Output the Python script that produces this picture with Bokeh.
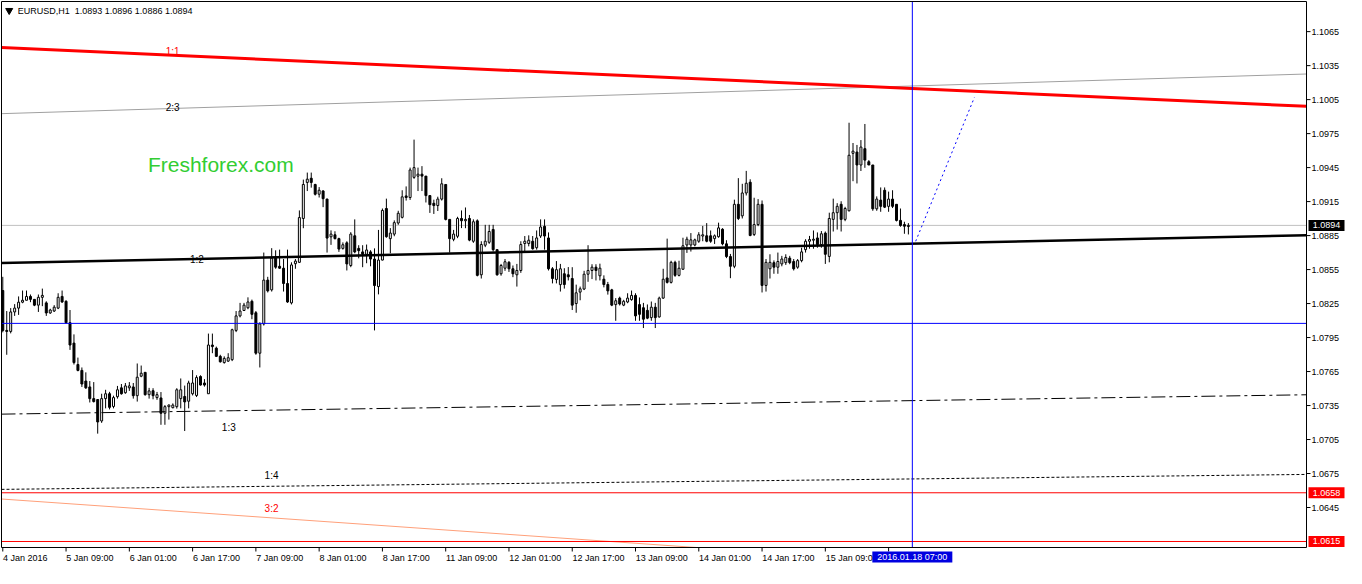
from bokeh.plotting import figure
from bokeh.models import Range1d, ColumnDataSource, Label
from bokeh.core.properties import value
from bokeh.embed import file_html
from bokeh.resources import INLINE

# ---------------- data (EURUSD H1) ----------------
opens = [1.08365, 1.08013, 1.08004, 1.08176, 1.08210, 1.08262, 1.08279, 1.08313, 1.08287, 1.08236,
         1.08305, 1.08256, 1.08167, 1.08184, 1.08210, 1.08313, 1.08270, 1.08081, 1.07901, 1.07712,
         1.07660, 1.07566, 1.07514, 1.07411, 1.07403, 1.07214, 1.07411, 1.07454, 1.07342, 1.07428,
         1.07506, 1.07463, 1.07506, 1.07514, 1.07437, 1.07609, 1.07643, 1.07446, 1.07481, 1.07420,
         1.07417, 1.07282, 1.07340, 1.07331, 1.07340, 1.07411, 1.07430, 1.07388, 1.07454, 1.07439,
         1.07606, 1.07549, 1.07454, 1.07884, 1.07856, 1.07784, 1.07729, 1.07742, 1.07755, 1.08013,
         1.08141, 1.08189, 1.08213, 1.08270, 1.08169, 1.07812, 1.08070, 1.08457, 1.08371, 1.08651,
         1.08579, 1.08562, 1.08427, 1.08256, 1.08602, 1.08614, 1.09001, 1.09319, 1.09356, 1.09301,
         1.09215, 1.09244, 1.09172, 1.08839, 1.08857, 1.08823, 1.08737, 1.08786, 1.08586, 1.08848,
         1.08737, 1.08706, 1.08685, 1.08706, 1.08643, 1.08400, 1.08634, 1.09089, 1.08823, 1.08863,
         1.08961, 1.09011, 1.09200, 1.09186, 1.09364, 1.09375, 1.09392, 1.09375, 1.09203, 1.09135,
         1.09115, 1.09172, 1.09301, 1.08993, 1.08817, 1.08844, 1.09001, 1.08981, 1.09001, 1.08800,
         1.08980, 1.08504, 1.08765, 1.08791, 1.08904, 1.08726, 1.08513, 1.08562, 1.08614, 1.08557,
         1.08504, 1.08542, 1.08780, 1.08780, 1.08800, 1.08743, 1.08846, 1.08932, 1.08829, 1.08557,
         1.08463, 1.08417, 1.08513, 1.08504, 1.08471, 1.08250, 1.08351, 1.08378, 1.08509, 1.08542,
         1.08571, 1.08495, 1.08465, 1.08418, 1.08371, 1.08241, 1.08298, 1.08236, 1.08264, 1.08285,
         1.08322, 1.08241, 1.08213, 1.08190, 1.08126, 1.08218, 1.08132, 1.08298, 1.08476, 1.08437,
         1.08614, 1.08499, 1.08553, 1.08767, 1.08767, 1.08767, 1.08800, 1.08846, 1.08848, 1.08848,
         1.08823, 1.08840, 1.08906, 1.08777, 1.08665, 1.08579, 1.09126, 1.09024, 1.09226, 1.09321,
         1.08860, 1.08947, 1.09126, 1.08410, 1.08557, 1.08611, 1.08571, 1.08600, 1.08611, 1.08651,
         1.08621, 1.08571, 1.08629, 1.08726, 1.08800, 1.08809, 1.08829, 1.08771, 1.08872, 1.08666,
         1.08993, 1.09052, 1.09126, 1.08993, 1.09069, 1.09576, 1.09587, 1.09473, 1.09617, 1.09502,
         1.09473, 1.09086, 1.09163, 1.09250, 1.09108, 1.09172, 1.09126, 1.08984, 1.08947, 1.08930]
highs = [1.08486, 1.08184, 1.08210, 1.08245, 1.08313, 1.08365, 1.08365, 1.08330, 1.08287, 1.08330,
         1.08382, 1.08270, 1.08204, 1.08236, 1.08341, 1.08365, 1.08279, 1.08193, 1.07978, 1.07773,
         1.07686, 1.07643, 1.07566, 1.07557, 1.07403, 1.07454, 1.07489, 1.07471, 1.07437, 1.07523,
         1.07540, 1.07549, 1.07557, 1.07549, 1.07721, 1.07703, 1.07643, 1.07506, 1.07503, 1.07470,
         1.07469, 1.07354, 1.07360, 1.07369, 1.07503, 1.07589, 1.07526, 1.07569, 1.07663, 1.07617,
         1.07617, 1.07583, 1.07985, 1.07985, 1.07870, 1.07798, 1.07784, 1.07812, 1.08028, 1.08184,
         1.08256, 1.08256, 1.08305, 1.08285, 1.08184, 1.08085, 1.08700, 1.08486, 1.08739, 1.08720,
         1.08726, 1.08643, 1.08726, 1.08614, 1.08643, 1.09072, 1.09344, 1.09406, 1.09406, 1.09307,
         1.09278, 1.09250, 1.09176, 1.08896, 1.08888, 1.08831, 1.08790, 1.08800, 1.08880, 1.08993,
         1.08765, 1.08765, 1.08771, 1.08721, 1.08737, 1.08900, 1.09089, 1.09176, 1.08916, 1.08984,
         1.09069, 1.09250, 1.09284, 1.09450, 1.09697, 1.09450, 1.09463, 1.09375, 1.09203, 1.09167,
         1.09193, 1.09356, 1.09301, 1.08993, 1.08900, 1.09016, 1.09072, 1.09098, 1.09032, 1.08993,
         1.08993, 1.08800, 1.08945, 1.08945, 1.08945, 1.08726, 1.08600, 1.08643, 1.08625, 1.08586,
         1.08600, 1.08800, 1.08846, 1.08852, 1.08846, 1.08895, 1.08993, 1.08993, 1.08878, 1.08572,
         1.08625, 1.08600, 1.08562, 1.08572, 1.08571, 1.08417, 1.08400, 1.08539, 1.08765, 1.08597,
         1.08597, 1.08602, 1.08499, 1.08441, 1.08380, 1.08298, 1.08311, 1.08283, 1.08341, 1.08365,
         1.08341, 1.08304, 1.08256, 1.08242, 1.08268, 1.08256, 1.08311, 1.08557, 1.08823, 1.08628,
         1.08628, 1.08628, 1.08831, 1.08840, 1.08872, 1.08823, 1.08880, 1.08935, 1.08960, 1.08895,
         1.08860, 1.08964, 1.08915, 1.08809, 1.08688, 1.09167, 1.09357, 1.09307, 1.09421, 1.09347,
         1.09184, 1.09172, 1.09160, 1.08643, 1.08685, 1.08631, 1.08700, 1.08671, 1.08685, 1.08671,
         1.08643, 1.08643, 1.08743, 1.08818, 1.08847, 1.08895, 1.08878, 1.08890, 1.08886, 1.09052,
         1.09176, 1.09136, 1.09153, 1.09104, 1.09846, 1.09667, 1.09650, 1.09693, 1.09835, 1.09516,
         1.09473, 1.09196, 1.09275, 1.09275, 1.09238, 1.09250, 1.09126, 1.09089, 1.08972, 1.08960]
lows = [1.07996, 1.07798, 1.07987, 1.08141, 1.08150, 1.08253, 1.08279, 1.08262, 1.08227, 1.08176,
        1.08227, 1.08141, 1.08159, 1.08176, 1.08201, 1.08256, 1.08072, 1.07841, 1.07712, 1.07652,
        1.07514, 1.07497, 1.07377, 1.07377, 1.07102, 1.07197, 1.07325, 1.07316, 1.07325, 1.07411,
        1.07446, 1.07454, 1.07479, 1.07411, 1.07385, 1.07600, 1.07437, 1.07411, 1.07405, 1.07400,
        1.07180, 1.07180, 1.07226, 1.07325, 1.07323, 1.07325, 1.07125, 1.07325, 1.07439, 1.07425,
        1.07526, 1.07517, 1.07454, 1.07812, 1.07778, 1.07729, 1.07720, 1.07736, 1.07742, 1.07998,
        1.08128, 1.08184, 1.08200, 1.08112, 1.07798, 1.07686, 1.08056, 1.08348, 1.08356, 1.08557,
        1.08557, 1.08356, 1.08256, 1.08242, 1.08557, 1.08609, 1.08915, 1.09243, 1.09273, 1.09204,
        1.09186, 1.09101, 1.08700, 1.08768, 1.08816, 1.08706, 1.08726, 1.08542, 1.08571, 1.08694,
        1.08649, 1.08571, 1.08606, 1.08579, 1.08013, 1.08331, 1.08631, 1.08831, 1.08694, 1.08844,
        1.08945, 1.09001, 1.09159, 1.09165, 1.09351, 1.09243, 1.09243, 1.09142, 1.09050, 1.09041,
        1.09067, 1.09159, 1.08984, 1.08700, 1.08800, 1.08827, 1.08916, 1.08915, 1.08800, 1.08786,
        1.08490, 1.08471, 1.08748, 1.08777, 1.08709, 1.08496, 1.08496, 1.08539, 1.08529, 1.08483,
        1.08400, 1.08521, 1.08712, 1.08755, 1.08726, 1.08726, 1.08829, 1.08726, 1.08542, 1.08428,
        1.08428, 1.08356, 1.08382, 1.08454, 1.08193, 1.08169, 1.08279, 1.08369, 1.08442, 1.08466,
        1.08454, 1.08454, 1.08393, 1.08329, 1.08227, 1.08098, 1.08233, 1.08227, 1.08253, 1.08275,
        1.08098, 1.08098, 1.08034, 1.08112, 1.08098, 1.08034, 1.08126, 1.08292, 1.08427, 1.08427,
        1.08486, 1.08490, 1.08548, 1.08697, 1.08709, 1.08755, 1.08786, 1.08800, 1.08791, 1.08786,
        1.08776, 1.08831, 1.08764, 1.08651, 1.08474, 1.08562, 1.08987, 1.09001, 1.09204, 1.08844,
        1.08846, 1.08933, 1.08348, 1.08356, 1.08471, 1.08513, 1.08513, 1.08579, 1.08591, 1.08597,
        1.08542, 1.08557, 1.08614, 1.08700, 1.08734, 1.08734, 1.08743, 1.08743, 1.08600, 1.08614,
        1.08886, 1.08903, 1.08886, 1.08977, 1.09063, 1.09330, 1.09310, 1.09420, 1.09448, 1.09473,
        1.09069, 1.09069, 1.09060, 1.09093, 1.09060, 1.09093, 1.08975, 1.08928, 1.08866, 1.08860]
closes = [1.08013, 1.08004, 1.08176, 1.08210, 1.08262, 1.08279, 1.08313, 1.08287, 1.08236, 1.08305,
          1.08322, 1.08167, 1.08193, 1.08218, 1.08305, 1.08264, 1.08081, 1.07884, 1.07729, 1.07660,
          1.07540, 1.07506, 1.07411, 1.07385, 1.07205, 1.07411, 1.07454, 1.07334, 1.07420, 1.07489,
          1.07454, 1.07523, 1.07523, 1.07437, 1.07600, 1.07635, 1.07446, 1.07479, 1.07437, 1.07446,
          1.07282, 1.07340, 1.07354, 1.07354, 1.07489, 1.07489, 1.07382, 1.07549, 1.07549, 1.07597,
          1.07531, 1.07531, 1.07884, 1.07870, 1.07784, 1.07736, 1.07766, 1.07772, 1.08019, 1.08141,
          1.08184, 1.08236, 1.08264, 1.08155, 1.07812, 1.08070, 1.08457, 1.08362, 1.08651, 1.08571,
          1.08562, 1.08427, 1.08264, 1.08591, 1.08625, 1.09009, 1.09301, 1.09348, 1.09319, 1.09215,
          1.09250, 1.09176, 1.08828, 1.08863, 1.08823, 1.08731, 1.08769, 1.08600, 1.08863, 1.08706,
          1.08717, 1.08685, 1.08723, 1.08643, 1.08409, 1.08634, 1.09072, 1.08840, 1.08872, 1.08964,
          1.09047, 1.09192, 1.09186, 1.09429, 1.09450, 1.09392, 1.09375, 1.09203, 1.09123, 1.09115,
          1.09172, 1.09307, 1.08993, 1.08823, 1.08863, 1.09001, 1.08981, 1.08993, 1.08810, 1.08972,
          1.08499, 1.08771, 1.08800, 1.08886, 1.08726, 1.08504, 1.08586, 1.08619, 1.08557, 1.08513,
          1.08542, 1.08771, 1.08800, 1.08809, 1.08734, 1.08829, 1.08926, 1.08846, 1.08557, 1.08471,
          1.08549, 1.08557, 1.08418, 1.08486, 1.08236, 1.08345, 1.08380, 1.08509, 1.08542, 1.08571,
          1.08542, 1.08562, 1.08418, 1.08362, 1.08236, 1.08275, 1.08246, 1.08270, 1.08298, 1.08322,
          1.08141, 1.08155, 1.08112, 1.08121, 1.08218, 1.08126, 1.08298, 1.08465, 1.08437, 1.08614,
          1.08499, 1.08562, 1.08760, 1.08818, 1.08812, 1.08812, 1.08857, 1.08857, 1.08800, 1.08800,
          1.08848, 1.08918, 1.08777, 1.08665, 1.08579, 1.09126, 1.09001, 1.09226, 1.09312, 1.08851,
          1.08947, 1.09126, 1.08410, 1.08614, 1.08614, 1.08571, 1.08621, 1.08643, 1.08657, 1.08611,
          1.08557, 1.08629, 1.08706, 1.08800, 1.08815, 1.08818, 1.08771, 1.08866, 1.08685, 1.09001,
          1.09052, 1.09108, 1.08993, 1.09089, 1.09559, 1.09595, 1.09473, 1.09631, 1.09516, 1.09473,
          1.09086, 1.09172, 1.09108, 1.09101, 1.09172, 1.09108, 1.08984, 1.08939, 1.08933, 1.08940]
bars = list(range(1, len(opens) + 1))

time_tick_bars = [1, 17, 33, 49, 65, 81, 97, 113, 129, 145, 161, 177, 193, 209, 225]
time_tick_labels = ["4 Jan 2016", "5 Jan 09:00", "6 Jan 01:00", "6 Jan 17:00", "7 Jan 09:00",
                    "8 Jan 01:00", "8 Jan 17:00", "11 Jan 09:00", "12 Jan 01:00", "12 Jan 17:00",
                    "13 Jan 09:00", "14 Jan 01:00", "14 Jan 17:00", "15 Jan 09:00", ""]
price_ticks = [1.0645, 1.0675, 1.0705, 1.0735, 1.0765, 1.0795, 1.0825, 1.0855,
               1.0885, 1.0915, 1.0945, 1.0975, 1.1005, 1.1035, 1.1065]
price_tick_labels = ["1.0645", "1.0675", "1.0705", "1.0735", "1.0765", "1.0795", "1.0825", "1.0855",
                     "1.0885", "1.0915", "1.0945", "1.0975", "1.1005", "1.1035", "1.1065"]

header_text = "EURUSD,H1\u00a0\u00a01.0893 1.0896 1.0886 1.0894"
current_bar_label = "2016.01.18 07:00"
current_bar = 231
bid_price = 1.0894
level_blue = 1.08075
level_red_a = 1.0658
level_red_b = 1.0615
marked_prices = [1.0894, 1.0658, 1.0615]
marked_labels = ["1.0894", "1.0658", "1.0615"]
marked_colors = ["black", "#FF0000", "#FF0000"]

fan_x = [0.675, 330.675]
fan_1_1 = [1.10510, 1.09991]
fan_2_3 = [1.09926, 1.10276]
fan_1_2 = [1.08607, 1.08853]
fan_1_3 = [1.07274, 1.07445]
fan_1_4 = [1.06610, 1.06742]
fan_3_2_x = [0.675, 176.4]
fan_3_2 = [1.06525, 1.06097]
proj_x = [231.85, 246.7]
proj_y = [1.0880, 1.1007]

# ---------------- geometry of the chart window ----------------
FONT = "Liberation Sans"
W, H = 1346, 568
AX_R, AX_B = 40, 21          # right price scale / bottom time scale, in px
X0, X1 = 0.675, 330.675      # bar-index span of the chart area
Y0, Y1 = 1.06097, 1.10916    # price span of the chart area
kx = (W - 1 - AX_R) / (X1 - X0)          # px per bar
ky = (H - 1 - AX_B) / (Y1 - Y0)          # px per price unit
dx = 1.0 / kx                            # one pixel in bar units
dy = 1.0 / ky                            # one pixel in price units

p = figure(width=W, height=H,
           x_range=Range1d(X0 - 1 * dx, X1 + AX_R * dx),
           y_range=Range1d(Y0 - AX_B * dy, Y1 + 1 * dy),
           output_backend="svg", toolbar_location=None,
           x_axis_location=None, y_axis_location=None,
           min_border=0, min_border_left=0, min_border_right=0, min_border_top=0, min_border_bottom=0,
           background_fill_color="white", border_fill_color="white")
p.grid.visible = False
p.outline_line_color = None

# bid line (behind the candles)
p.segment(x0=[X0], y0=[bid_price], x1=[X1], y1=[bid_price], line_color="#C0C0C0", line_width=1)

# ---------------- candles ----------------
up = [c >= o for o, c in zip(opens, closes)]
src = ColumnDataSource(dict(
    x=bars, o=opens, h=highs, l=lows, c=closes,
    top=[max(o, c) for o, c in zip(opens, closes)],
    bot=[min(o, c) for o, c in zip(opens, closes)],
    fill=["white" if u else "black" for u in up],
))
p.segment(x0="x", y0="l", x1="x", y1="h", source=src, line_color="black", line_width=1)
p.vbar(x="x", width=0.5, top="top", bottom="bot", source=src,
       fill_color="fill", line_color="black", line_width=1)

# ---------------- objects ----------------
p.line(fan_x, fan_2_3, line_color="#A0A0A0", line_width=1)
p.line(fan_x, fan_1_1, line_color="#FF0000", line_width=3)
p.line(fan_x, fan_1_2, line_color="black", line_width=2.5)
p.line(fan_x, fan_1_3, line_color="black", line_width=1, line_dash="14 4 3 4")
p.line(fan_x, fan_1_4, line_color="black", line_width=1, line_dash="3 2")
p.line(fan_3_2_x, fan_3_2, line_color="#FFA07A", line_width=1)
for lvl, col in [(level_blue, "#0000FF"), (level_red_a, "#FF0000"), (level_red_b, "#FF0000")]:
    p.segment(x0=[X0], y0=[lvl], x1=[X1], y1=[lvl], line_color=col, line_width=1)
p.segment(x0=[current_bar], y0=[Y0], x1=[current_bar], y1=[Y1], line_color="#0000FF", line_width=1)
p.line(proj_x, proj_y, line_color="#0000FF", line_width=1, line_dash="2 3")

# chart window border
p.quad(left=[X0], right=[X1], top=[Y1], bottom=[Y0], fill_color=None, line_color="black", line_width=1)

# ---------------- price scale (right) ----------------
p.segment(x0=[X1] * len(price_ticks), y0=price_ticks, x1=[X1 + 4 * dx] * len(price_ticks), y1=price_ticks,
          line_color="black", line_width=1)
p.text(x=[X1 + 5 * dx] * len(price_ticks), y=price_ticks, text=price_tick_labels,
       text_font=value(FONT), text_font_size="9px", text_color="black",
       text_align="left", text_baseline="middle")

# ---------------- time scale (bottom) ----------------
p.segment(x0=time_tick_bars, y0=[Y0] * len(time_tick_bars), x1=time_tick_bars,
          y1=[Y0 - 4 * dy] * len(time_tick_bars), line_color="black", line_width=1)
p.text(x=[t + 0.3 * dx for t in time_tick_bars], y=[Y0 - 5 * dy] * len(time_tick_bars),
       text=time_tick_labels, text_font=value(FONT), text_font_size="9px", text_color="black",
       text_align="left", text_baseline="top")

# highlighted price marks on the scale
p.quad(left=[X1 + 2 * dx] * 3, right=[X1 + 38 * dx] * 3,
       top=[v + 5.5 * dy for v in marked_prices], bottom=[v - 5.5 * dy for v in marked_prices],
       fill_color=marked_colors, line_color=None)
p.text(x=[X1 + 20 * dx] * 3, y=marked_prices, text=marked_labels, text_font=value(FONT),
       text_font_size="9px", text_color="white", text_align="center", text_baseline="middle")

# highlighted time mark
p.quad(left=[current_bar - 40 * dx], right=[current_bar + 40 * dx],
       top=[Y0 - 4 * dy], bottom=[Y0 - 15 * dy], fill_color="#0000E0", line_color=None)
p.text(x=[current_bar], y=[Y0 - 9.5 * dy], text=[current_bar_label], text_font=value(FONT),
       text_font_size="9px", text_color="white", text_align="center", text_baseline="middle")

# ---------------- texts in the chart ----------------
p.scatter([X0 + 7.7 * dx], [Y1 - 9 * dy], marker="inverted_triangle", size=7,
          fill_color="black", line_color="black")
p.add_layout(Label(x=X0 + 16.3 * dx, y=Y1 - 4 * dy, text=header_text, text_font=FONT,
                   text_font_size="9px", text_color="black", text_baseline="top", text_align="left"))
p.add_layout(Label(x=37.7, y=1.09473, text="Freshforex.com", text_font=FONT, text_font_size="21px",
                   text_color="#32CD32", text_baseline="alphabetic", text_align="left"))

fan_labels = [("1:1", 42.2, 1.10475, "#FF0000"), ("2:3", 42.2, 1.09982, "black"),
              ("1:2", 48.35, 1.08637, "black"), ("1:3", 56.4, 1.07160, "black"),
              ("1:4", 67.2, 1.06731, "black"), ("3:2", 67.2, 1.06444, "#FF0000")]
for t, lx, ly, col in fan_labels:
    p.add_layout(Label(x=lx, y=ly, text=t, text_font=FONT, text_font_size="10px", text_color=col,
                       text_baseline="alphabetic", text_align="left"))

open("out.html", "w").write(file_html(p, INLINE))
